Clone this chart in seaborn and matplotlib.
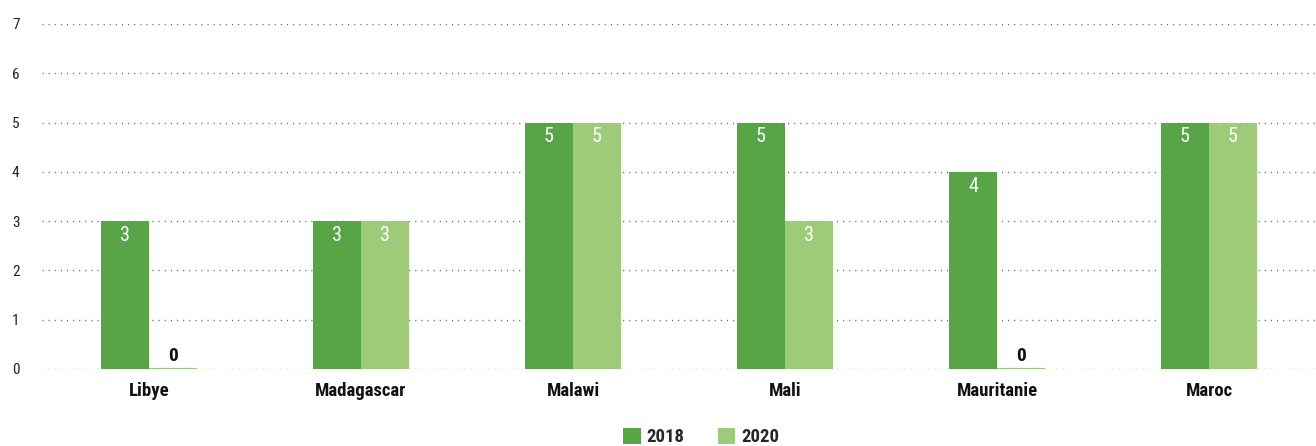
import matplotlib
matplotlib.use("Agg")
import matplotlib.pyplot as plt
import seaborn as sns
import pandas as pd
from matplotlib.patches import Patch

countries = ["Libye", "Madagascar", "Malawi", "Mali", "Mauritanie", "Maroc"]
values_2018 = [3, 3, 5, 5, 4, 5]
values_2020 = [0, 3, 5, 3, 0, 5]
years = ["2018", "2020"]
colors = {"2018": "#58a548", "2020": "#9dcb7a"}

df = pd.DataFrame({
    "country": countries * 2,
    "year": [years[0]] * len(countries) + [years[1]] * len(countries),
    "value": values_2018 + values_2020,
})

sns.set_style("white")
plt.rcParams["font.family"] = ["Roboto Condensed", "DejaVu Sans"]

fig = plt.figure(figsize=(13.16, 4.46), dpi=100)
ax = fig.add_axes([42 / 1316, 77 / 446, 1 - 42 / 1316, 345 / 446])

sns.barplot(data=df, x="country", y="value", hue="year", palette=colors,
            width=0.453, saturation=1, ax=ax, legend=False, zorder=3,
            linewidth=0)

# zero-height bars shown as a thin baseline stroke
for cont in ax.containers:
    for bar in cont:
        if bar.get_height() == 0:
            bar.set_edgecolor(bar.get_facecolor())
            bar.set_linewidth(1.6)

for cont in ax.containers:
    for bar in cont:
        h = bar.get_height()
        cx = bar.get_x() + bar.get_width() / 2
        if h > 0:
            ax.annotate(f"{h:g}", (cx, h), xytext=(0, -3.5), textcoords="offset points",
                        ha="center", va="top", color="white", fontsize=14.5)
        else:
            ax.annotate(f"{h:g}", (cx, h), xytext=(0, 3), textcoords="offset points",
                        ha="center", va="bottom", color="#111111", fontsize=14,
                        fontweight="bold")

ax.set_xlim(-0.505, len(countries) - 0.495)
ax.set_ylim(0, 7)
ax.set_yticks(range(0, 8))
ax.set_xlabel("")
ax.set_ylabel("")
ax.grid(axis="y", linestyle=(0, (0.8, 3.6)), color="#666666", linewidth=1.0, zorder=0)
ax.grid(axis="x", visible=False)
for s in ax.spines.values():
    s.set_visible(False)

ax.tick_params(axis="y", length=0, labelsize=11, colors="#222222", pad=0)
for lbl in ax.get_yticklabels():
    lbl.set_horizontalalignment("left")
    lbl.set_x(-30 / 1274)
ax.tick_params(axis="x", length=0, labelsize=13.5, colors="#111111", pad=9)
for lbl in ax.get_xticklabels():
    lbl.set_fontweight("bold")

handles = [Patch(facecolor=colors[y], edgecolor="none") for y in years]
fig.legend(handles, years, loc="center left",
           bbox_to_anchor=(623 / 1316, 9 / 446), ncol=2, frameon=False,
           handlelength=0.95, handleheight=0.95, columnspacing=1.75,
           handletextpad=0.32, borderpad=0, borderaxespad=0,
           prop={"size": 13.5, "weight": "bold"})

fig.savefig("out.png", dpi=100)
